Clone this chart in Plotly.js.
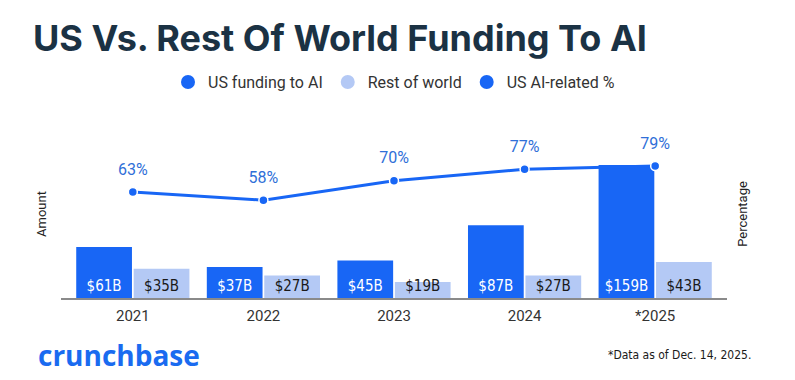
<!DOCTYPE html>
<html>
<head>
<meta charset="utf-8">
<script src="https://cdn.plot.ly/plotly-3.0.1.min.js"></script>
<style>
html,body{margin:0;padding:0;background:#fff;}
#chart{width:795px;height:380px;}
</style>
</head>
<body>
<div id="chart"></div>
<script>
const years = ["2021", "2022", "2023", "2024", "*2025"];
const usFunding = [61, 37, 45, 87, 159];
const restOfWorld = [35, 27, 19, 27, 43];
const usPercent = [63, 58, 70, 77, 79];
const seriesNames = ["US funding to AI", "Rest of world", "US AI-related %"];

const usLabels = usFunding.map(v => "$" + v + "B");
const rowLabels = restOfWorld.map(v => "$" + v + "B");
const pctLabels = usPercent.map(v => v + "%");

const narrow = "'DejaVu Sans Condensed', 'Liberation Sans Narrow', 'Roboto', sans-serif";
const blue = "#1866f5", light = "#b4c9f5";

const traces = [
  {
    type: "bar", name: seriesNames[0], x: years, y: usFunding, showlegend: false,
    marker: {color: blue},
    text: usLabels, textposition: "inside", insidetextanchor: "start", constraintext: "none",
    textfont: {color: "#ffffff", size: 15, family: narrow},
    hoverinfo: "none"
  },
  {
    type: "bar", name: seriesNames[1], x: years, y: restOfWorld, showlegend: false,
    marker: {color: light},
    text: rowLabels, textposition: "inside", insidetextanchor: "start", constraintext: "none",
    textfont: {color: "#1a1a1a", size: 15, family: narrow},
    hoverinfo: "none"
  },
  {
    type: "scatter", mode: "lines+markers", name: seriesNames[2], showlegend: false,
    x: years, y: usPercent, yaxis: "y2",
    line: {color: blue, width: 3},
    marker: {color: blue, size: 9, line: {color: "#ffffff", width: 1.5}},
    cliponaxis: false, hoverinfo: "none"
  },
  {
    type: "scatter", mode: "markers+text", name: seriesNames[2] + " labels", showlegend: false,
    x: years, y: usPercent, yaxis: "y2",
    marker: {color: blue, size: 20, opacity: 0},
    text: pctLabels, textposition: "top center",
    textfont: {color: "#2f6fd8", size: 16, family: "Roboto, sans-serif"},
    cliponaxis: false, hoverinfo: "none"
  },
  // legend entries (circle symbols)
  {type: "scatter", mode: "markers", name: seriesNames[0], x: [null], y: [null], marker: {color: blue, size: 14}},
  {type: "scatter", mode: "markers", name: seriesNames[1], x: [null], y: [null], marker: {color: light, size: 14}},
  {type: "scatter", mode: "markers", name: seriesNames[2], x: [null], y: [null], marker: {color: blue, size: 14}}
];

const layout = {
  width: 795, height: 380,
  margin: {l: 61, r: 68, t: 130, b: 82},
  paper_bgcolor: "#ffffff", plot_bgcolor: "#ffffff",
  showlegend: true,
  legend: {
    orientation: "h", x: 0.5, xanchor: "center", y: 0.784, yanchor: "middle",
    xref: "paper", yref: "container",
    font: {family: "Roboto, sans-serif", size: 16, color: "#333333"},
    itemwidth: 30, tracegroupgap: 0
  },
  barmode: "group", bargap: 0.12, bargroupgap: 0.03,
  xaxis: {
    type: "category", range: [-0.55, 4.55], showgrid: false, zeroline: false,
    showline: true, linecolor: "#8a8a8a", linewidth: 1.5,
    ticks: "", ticklabelstandoff: 3,
    tickfont: {family: "Roboto, sans-serif", size: 15, color: "#333333"},
    fixedrange: true
  },
  yaxis: {
    range: [0, 201], showgrid: false, zeroline: false, showticklabels: false,
    title: {text: "Amount", font: {family: "Roboto, sans-serif", size: 13, color: "#222222"}, standoff: 10},
    fixedrange: true
  },
  yaxis2: {
    overlaying: "y", side: "right", range: [-2.2, 101.2],
    showgrid: false, zeroline: false, showticklabels: false,
    title: {text: "Percentage", font: {family: "Roboto, sans-serif", size: 13, color: "#222222"}, standoff: 10},
    fixedrange: true
  },
  annotations: [
    {text: "<b>US Vs. Rest Of World Funding To AI</b>", xref: "paper", yref: "paper",
     x: 0, xshift: -30, y: 1.69, xanchor: "left", yanchor: "top", showarrow: false,
     font: {family: "Inter, 'Open Sans', sans-serif", size: 36, color: "#1b3244"}},
    {text: "<b>crunchbase</b>", xref: "paper", yref: "paper",
     x: 0, xshift: -25, y: -0.34, xanchor: "left", yanchor: "middle", showarrow: false,
     font: {family: "'Open Sans', Roboto, sans-serif", size: 28, color: "#1a6bf0"}},
    {text: "*Data as of Dec. 14, 2025.", xref: "paper", yref: "paper",
     x: 1, xshift: 26, y: -0.34, xanchor: "right", yanchor: "middle", showarrow: false,
     font: {family: narrow, size: 12, color: "#1a1a1a"}}
  ]
};

Plotly.newPlot("chart", traces, layout, {displayModeBar: false, staticPlot: true});
</script>
</body>
</html>
